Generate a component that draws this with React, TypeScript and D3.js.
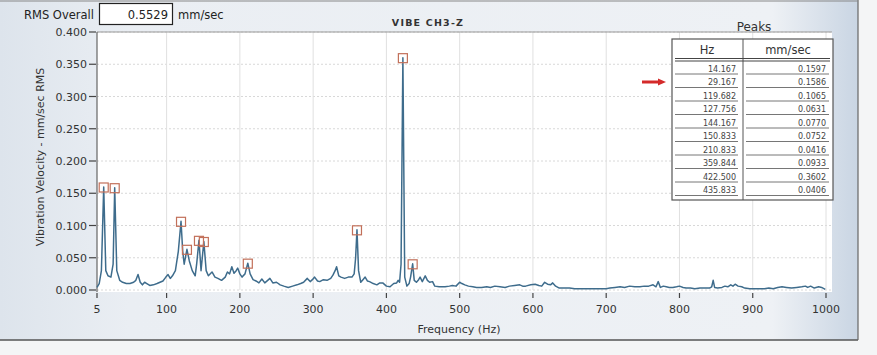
import React from "react";
import * as d3 from "d3";

const freqs: number[] = [
  5, 8, 11, 14.167, 17, 20, 24, 27, 29.167, 32, 36, 40, 45, 50, 55, 58, 61, 64, 67, 70, 73, 77, 82, 87, 91, 95, 99, 102, 105, 108, 112, 116,
  119.682, 122, 124, 127.756, 131, 135, 139, 141, 144.167, 147, 150.833, 154, 157, 162, 166, 170, 175, 180, 183, 186, 189, 192, 195, 197,
  200, 203, 207, 210.833, 214, 218, 222, 226, 230, 234, 238, 241, 245, 250, 255, 260, 266, 272, 278, 283, 287, 292, 296, 299, 302, 306,
  309, 314, 319, 324, 327, 330, 332, 335, 338, 343, 348, 353, 356, 358, 359.844, 362, 365, 368, 371, 374, 377, 382, 387, 391, 395, 400,
  405, 410, 414, 416, 418, 420, 422.5, 425, 428, 431, 433, 435.833, 438, 441, 444, 446, 449, 453, 456, 459, 463, 466, 472, 480, 486, 490,
  495, 500, 503, 507, 512, 518, 523, 530, 537, 542, 548, 555, 562, 568, 575, 582, 586, 590, 597, 603, 608, 612, 616, 620, 624, 627, 631,
  636, 642, 650, 657, 664, 672, 680, 691, 700, 705, 712, 719, 725, 732, 739, 746, 752, 758, 764, 768, 771, 774, 778, 782, 786, 791, 796,
  800, 805, 809, 815, 821, 828, 835, 841, 844, 846, 848, 852, 858, 862, 866, 870, 873, 876, 880, 885, 889, 896, 903, 910, 916, 922, 928,
  934, 940, 946, 953, 960, 967, 972, 975, 979, 984, 990, 994, 999,
];
const amps: number[] = [
  0.004, 0.01, 0.03, 0.1597, 0.03, 0.022, 0.02, 0.04, 0.1586, 0.03, 0.015, 0.012, 0.01, 0.01, 0.012, 0.015, 0.024, 0.012, 0.008, 0.012, 0.01, 0.007, 0.008, 0.01, 0.012, 0.014, 0.02, 0.024, 0.018, 0.022, 0.03, 0.06,
  0.1065, 0.06, 0.04, 0.0631, 0.045, 0.03, 0.022, 0.04, 0.077, 0.03, 0.0752, 0.03, 0.022, 0.028, 0.02, 0.018, 0.015, 0.02, 0.028, 0.025, 0.036, 0.026, 0.03, 0.034,
  0.025, 0.02, 0.025, 0.0416, 0.025, 0.016, 0.014, 0.011, 0.017, 0.011, 0.015, 0.018, 0.011, 0.012, 0.008, 0.006, 0.004, 0.006, 0.008, 0.01, 0.012, 0.018, 0.013, 0.016, 0.02, 0.014,
  0.013, 0.016, 0.015, 0.018, 0.023, 0.03, 0.036, 0.022, 0.02, 0.018, 0.02, 0.02, 0.025, 0.05, 0.0933, 0.03, 0.012, 0.016, 0.02, 0.014, 0.013, 0.01, 0.008, 0.011, 0.011, 0.006,
  0.005, 0.01, 0.011, 0.015, 0.012, 0.04, 0.3602, 0.02, 0.006, 0.01, 0.02, 0.0406, 0.015, 0.012, 0.016, 0.02, 0.013, 0.022, 0.015, 0.012, 0.013, 0.006, 0.005, 0.005, 0.006, 0.007,
  0.006, 0.012, 0.01, 0.008, 0.006, 0.005, 0.004, 0.004, 0.005, 0.004, 0.006, 0.005, 0.004, 0.006, 0.007, 0.008, 0.006, 0.006, 0.008, 0.009, 0.007, 0.006, 0.012, 0.009, 0.008, 0.011, 0.006,
  0.003, 0.003, 0.003, 0.002, 0.002, 0.002, 0.002, 0.002, 0.002, 0.003, 0.004, 0.005, 0.004, 0.006, 0.005, 0.005, 0.006, 0.006, 0.008, 0.005, 0.013, 0.004, 0.006, 0.005, 0.004, 0.004, 0.005,
  0.006, 0.004, 0.003, 0.003, 0.002, 0.003, 0.003, 0.003, 0.005, 0.015, 0.004, 0.003, 0.004, 0.006, 0.005, 0.008, 0.006, 0.009, 0.006, 0.005, 0.003, 0.002, 0.002, 0.002, 0.002, 0.003, 0.002,
  0.004, 0.005, 0.004, 0.003, 0.004, 0.005, 0.006, 0.004, 0.006, 0.003, 0.005, 0.004, 0.001,
];

const peakHz: number[] = [14.167, 29.167, 119.682, 127.756, 144.167, 150.833, 210.833, 359.844, 422.5, 435.833];
const peakVal: number[] = [0.1597, 0.1586, 0.1065, 0.0631, 0.077, 0.0752, 0.0416, 0.0933, 0.3602, 0.0406];
const peakHzLabels: string[] = ["14.167", "29.167", "119.682", "127.756", "144.167", "150.833", "210.833", "359.844", "422.500", "435.833"];
const peakValLabels: string[] = ["0.1597", "0.1586", "0.1065", "0.0631", "0.0770", "0.0752", "0.0416", "0.0933", "0.3602", "0.0406"];

const xTicks: number[] = [5, 100, 200, 300, 400, 500, 600, 700, 800, 900, 1000];
const yTicks: number[] = [0, 0.05, 0.1, 0.15, 0.2, 0.25, 0.3, 0.35, 0.4];

const rmsOverall = "0.5529";
const title = "VIBE CH3-Z";

const FONT = "'DejaVu Sans', Verdana, sans-serif";

export default function App() {
  const W = 877, H = 355;
  const x = d3.scaleLinear().domain([5, 1000]).range([97, 826]);
  const y = d3.scaleLinear().domain([0, 0.4]).range([290, 32]);
  const line = d3
    .line<number>()
    .x((_, i) => x(freqs[i]))
    .y((d) => y(d));
  const path = line(amps) || "";

  const tX0 = 672, tX1 = 833, tDiv = 743, tY0 = 39, tY1 = 200;

  return (
    <svg width={W} height={H} style={{ position: "absolute", left: 0, top: 0 }} fontFamily={FONT}>
      <defs>
        <linearGradient id="bg" x1="0" x2="1" y1="0" y2="0">
          <stop offset="0" stopColor="#dde4ec" />
          <stop offset="0.15" stopColor="#eaeef3" />
          <stop offset="0.9" stopColor="#eef1f5" />
          <stop offset="1" stopColor="#c9d5e3" />
        </linearGradient>
      </defs>
      <rect x={0} y={0} width={W} height={H} fill="#f4f5f6" />
      <rect x={0} y={0} width={858} height={340} fill="url(#bg)" />
      <line x1={0} x2={858} y1={340} y2={340} stroke="#555" strokeWidth={1.5} />
      <line x1={858} x2={858} y1={0} y2={340} stroke="#666" strokeWidth={1.2} />
      <line x1={0} x2={858} y1={1} y2={1} stroke="#888" strokeWidth={1} />

      {/* plot area */}
      <rect x={97} y={32} width={735} height={260} fill="#ffffff" />
      {yTicks.map((t) => (
        <line key={"gy" + t} x1={97} x2={832} y1={y(t)} y2={y(t)} stroke="#d8d8d8" strokeDasharray="2,2" strokeWidth={1} />
      ))}
      {xTicks.slice(1).map((t) => (
        <line key={"gx" + t} x1={x(t)} x2={x(t)} y1={32} y2={290} stroke="#e0e0e0" strokeWidth={1} />
      ))}
      <line x1={97} x2={832} y1={32} y2={32} stroke="#999" strokeWidth={1} />
      <line x1={97} x2={97} y1={32} y2={292} stroke="#666" strokeWidth={1.2} />

      {/* y axis ticks */}
      {yTicks.map((t) => (
        <g key={"ty" + t}>
          <line x1={89} x2={96} y1={y(t)} y2={y(t)} stroke="#444" strokeWidth={1.2} />
          <text x={87} y={y(t) + 4} textAnchor="end" fontSize={11} fill="#333">
            {t.toFixed(3)}
          </text>
        </g>
      ))}
      {/* x axis ticks */}
      {xTicks.map((t) => (
        <g key={"tx" + t}>
          <line x1={x(t)} x2={x(t)} y1={293} y2={298} stroke="#444" strokeWidth={1.2} />
          <text x={x(t)} y={313} textAnchor="middle" fontSize={11} fill="#333">
            {t}
          </text>
        </g>
      ))}

      {/* spectrum */}
      <path d={path} fill="none" stroke="#3e6c8c" strokeWidth={1.5} strokeLinejoin="round" />

      {/* peak markers */}
      {peakHz.map((f, i) => (
        <rect key={"pk" + i} x={x(f) - 4.5} y={y(peakVal[i]) - 4} width={9} height={9} fill="none" stroke="#c2705a" strokeWidth={1.2} />
      ))}

      {/* labels */}
      <text x={24} y={19} fontSize={11.5} fill="#222">RMS Overall</text>
      <rect x={99.5} y={3.5} width={73} height={21} fill="#ffffff" stroke="#222" strokeWidth={1.2} />
      <text x={168} y={19} textAnchor="end" fontSize={11.5} fill="#222">{rmsOverall}</text>
      <text x={178} y={19} fontSize={11.5} fill="#222">mm/sec</text>
      <text x={428} y={26} textAnchor="middle" fontSize={9.5} fontWeight="bold" letterSpacing={1.2} fill="#333">{title}</text>
      <text x={754} y={31} textAnchor="middle" fontSize={12} fill="#333">Peaks</text>
      <text transform="translate(44,157) rotate(-90)" textAnchor="middle" fontSize={11} fill="#333">
        Vibration Velocity - mm/sec RMS
      </text>
      <text x={459} y={333} textAnchor="middle" fontSize={11} fill="#333">Frequency (Hz)</text>

      {/* peaks table */}
      <rect x={tX0} y={tY0} width={tX1 - tX0} height={tY1 - tY0} fill="#ffffff" stroke="#555" strokeWidth={1.2} />
      <line x1={tDiv} x2={tDiv} y1={tY0} y2={tY1} stroke="#555" strokeWidth={1} />
      <line x1={tX0 + 3} x2={tX1 - 3} y1={58.5} y2={58.5} stroke="#444" strokeWidth={1} />
      <line x1={tX0 + 3} x2={tX1 - 3} y1={61} y2={61} stroke="#444" strokeWidth={1} />
      <text x={707} y={54} textAnchor="middle" fontSize={11.5} fill="#333">Hz</text>
      <text x={788} y={54} textAnchor="middle" fontSize={11.5} fill="#333">mm/sec</text>
      {peakHzLabels.map((lab, i) => {
        const by = 71.5 + 13.5 * i;
        return (
          <g key={"row" + i}>
            <text x={736} y={by} textAnchor="end" fontSize={8} fill="#444">{lab}</text>
            <text x={826} y={by} textAnchor="end" fontSize={8} fill="#444">{peakValLabels[i]}</text>
            <line x1={675} x2={738} y1={by + 2.5} y2={by + 2.5} stroke="#666" strokeWidth={0.9} />
            <line x1={746} x2={829} y1={by + 2.5} y2={by + 2.5} stroke="#666" strokeWidth={0.9} />
          </g>
        );
      })}

      {/* red arrow annotation */}
      <line x1={642} x2={660} y1={82} y2={82} stroke="#d42a2a" strokeWidth={3} />
      <path d="M658,78.5 L666,82 L658,85.5 Z" fill="#d42a2a" />
    </svg>
  );
}
